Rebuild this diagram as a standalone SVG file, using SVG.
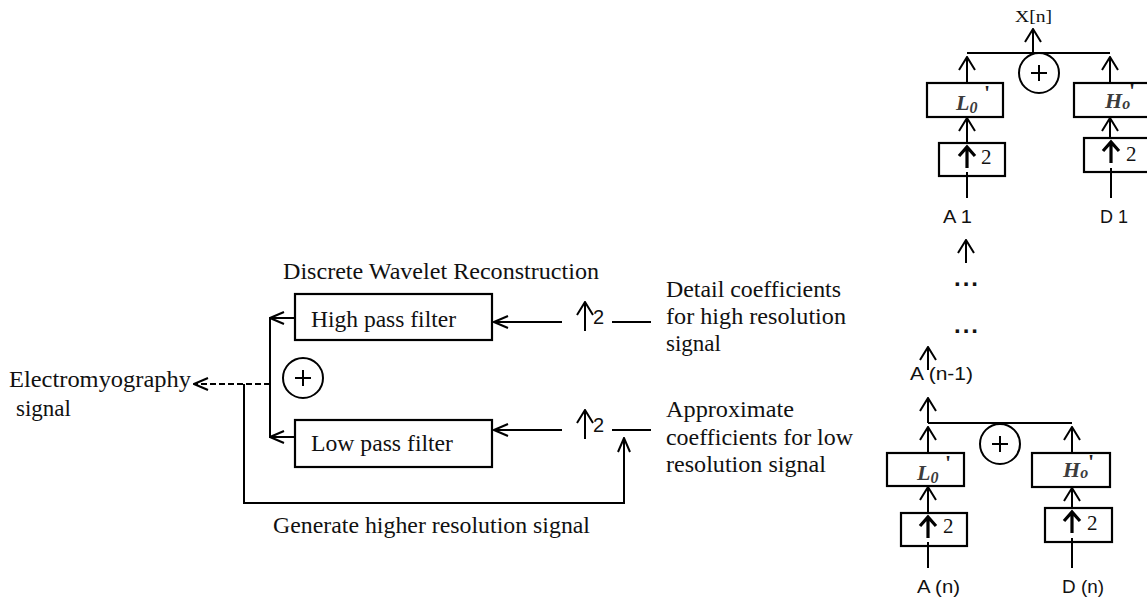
<svg xmlns="http://www.w3.org/2000/svg" width="1147" height="600" viewBox="0 0 1147 600">
<defs>
<style>
.ln{fill:none;stroke:#000;stroke-width:2}
.bx{fill:#fff;stroke:#000;stroke-width:2.2}
.ser{font-family:"Liberation Serif","Times New Roman",serif;fill:#111}
.big{font-size:23px}
.sans{font-family:"Liberation Sans",Arial,sans-serif;fill:#111}
.math{font-family:"Liberation Serif","Times New Roman",serif;font-style:italic;font-weight:bold;fill:#3c3c3c}
.pr{font-family:"Liberation Serif","Times New Roman",serif;font-weight:bold;fill:#222;font-size:22px}
.bold{fill:none;stroke:#000;stroke-width:3.2}
</style>
<marker id="ah" viewBox="0 0 16 14" refX="15" refY="7" markerWidth="16" markerHeight="14" markerUnits="userSpaceOnUse" orient="auto">
<path d="M1,1 L15,7 L1,13" fill="none" stroke="#000" stroke-width="2"/>
</marker>
<marker id="ah2" viewBox="0 0 15 18" refX="14" refY="9" markerWidth="15" markerHeight="18" markerUnits="userSpaceOnUse" orient="auto">
<path d="M1,1 L14,9 L1,17" fill="none" stroke="#000" stroke-width="2"/>
</marker>
</defs>
<rect width="1147" height="600" fill="#fff"/>

<text class="ser" x="283" y="279" font-size="24" fill="#222" textLength="316" lengthAdjust="spacingAndGlyphs">Discrete Wavelet Reconstruction</text>

<g id="high-pass-filter">
<rect class="bx" x="295" y="294" width="197" height="46"/>
<text class="ser big" x="311" y="327" textLength="145" lengthAdjust="spacingAndGlyphs">High pass filter</text>
</g>
<g id="low-pass-filter">
<rect class="bx" x="295" y="420" width="197" height="47"/>
<text class="ser big" x="311" y="451" textLength="142" lengthAdjust="spacingAndGlyphs">Low pass filter</text>
</g>
<g id="sum-left">
<circle class="ln" cx="303" cy="378" r="20"/>
<path class="ln" d="M295,378 H311 M303,370 V386"/>
</g>
<g id="emg-output">
<text class="ser big" x="9" y="387" textLength="182" lengthAdjust="spacingAndGlyphs">Electromyography</text>
<text class="ser big" x="16" y="416">signal</text>
</g>
<g id="upsample-high">
<text class="sans" x="593" y="324" font-size="20">2</text>
</g>
<g id="upsample-low">
<text class="sans" x="593" y="432" font-size="20">2</text>
</g>
<g id="detail-coeffs">
<text class="ser big" x="666" y="297" textLength="175" lengthAdjust="spacingAndGlyphs">Detail coefficients</text>
<text class="ser big" x="666" y="324" textLength="180" lengthAdjust="spacingAndGlyphs">for high resolution</text>
<text class="ser big" x="666" y="351">signal</text>
</g>
<g id="approx-coeffs">
<text class="ser big" x="666" y="417" textLength="128" lengthAdjust="spacingAndGlyphs">Approximate</text>
<text class="ser big" x="666" y="445" textLength="187" lengthAdjust="spacingAndGlyphs">coefficients for low</text>
<text class="ser big" x="666" y="472" textLength="160" lengthAdjust="spacingAndGlyphs">resolution signal</text>
</g>
<g id="feedback-label">
<text class="ser big" x="273" y="533" textLength="317" lengthAdjust="spacingAndGlyphs">Generate higher resolution signal</text>
</g>

<g id="xn">
<text class="ser" x="1015" y="22" font-size="16" textLength="37" lengthAdjust="spacingAndGlyphs">X[n]</text>
</g>
<g id="sum-top">
<circle class="ln" cx="1039" cy="73" r="20"/>
<path class="ln" d="M1031,73 H1047 M1039,65 V81"/>
</g>
<g id="L0-top">
<rect class="bx" x="927" y="83" width="76" height="34"/>
<text class="math" x="956" y="110" font-size="22">L<tspan font-size="16" dy="3">0</tspan></text>
<text class="pr" x="984" y="100">'</text>
</g>
<g id="H0-top">
<rect class="bx" x="1074" y="83" width="90" height="34"/>
<text class="math" x="1105" y="108" font-size="22">H<tspan font-size="16" dy="1">o</tspan></text>
<text class="pr" x="1129" y="98">'</text>
</g>
<g id="up2-L-top">
<rect class="bx" x="939" y="143" width="66" height="33"/>
<path class="bold" d="M967,147 V168 M959,156 L967,147 L975,156"/>
<text class="ser" x="981" y="164" font-size="21">2</text>
</g>
<g id="up2-H-top">
<rect class="bx" x="1084" y="138" width="80" height="34"/>
<path class="bold" d="M1111,142 V163 M1103,151 L1111,142 L1119,151"/>
<text class="ser" x="1126" y="161" font-size="21">2</text>
</g>
<g id="A1"><text class="sans" x="943" y="223" font-size="19" textLength="29" lengthAdjust="spacingAndGlyphs">A 1</text></g>
<g id="D1"><text class="sans" x="1100" y="223" font-size="19" textLength="28" lengthAdjust="spacingAndGlyphs">D 1</text></g>
<g id="dots">
<text class="sans" x="954" y="286" font-size="24" font-weight="bold" textLength="24" lengthAdjust="spacing">...</text>
<text class="sans" x="954" y="333" font-size="24" font-weight="bold" textLength="24" lengthAdjust="spacing">...</text>
</g>
<g id="An-1"><text class="sans" x="910" y="380" font-size="19" textLength="63" lengthAdjust="spacingAndGlyphs">A (n-1)</text></g>
<g id="sum-bottom">
<circle class="ln" cx="1000" cy="444" r="20"/>
<path class="ln" d="M992,444 H1008 M1000,436 V452"/>
</g>
<g id="L0-bottom">
<rect class="bx" x="887" y="453" width="77" height="33"/>
<text class="math" x="917" y="480" font-size="22">L<tspan font-size="16" dy="3">0</tspan></text>
<text class="pr" x="945" y="470">'</text>
</g>
<g id="H0-bottom">
<rect class="bx" x="1032" y="453" width="78" height="34"/>
<text class="math" x="1063" y="477" font-size="22">H<tspan font-size="16" dy="1">o</tspan></text>
<text class="pr" x="1088" y="469">'</text>
</g>
<g id="up2-L-bottom">
<rect class="bx" x="901" y="513" width="66" height="33"/>
<path class="bold" d="M928,517 V538 M920,526 L928,517 L936,526"/>
<text class="ser" x="943" y="533" font-size="21">2</text>
</g>
<g id="up2-H-bottom">
<rect class="bx" x="1045" y="508" width="67" height="34"/>
<path class="bold" d="M1072,512 V533 M1064,521 L1072,512 L1080,521"/>
<text class="ser" x="1087" y="530" font-size="21">2</text>
</g>
<g id="An"><text class="sans" x="917" y="593" font-size="19" textLength="43" lengthAdjust="spacingAndGlyphs">A (n)</text></g>
<g id="Dn"><text class="sans" x="1062" y="593" font-size="19" textLength="42" lengthAdjust="spacingAndGlyphs">D (n)</text></g>

<g id="connectors">
<line class="ln" x1="295" y1="318" x2="270" y2="318" marker-end="url(#ah)"/>
<line class="ln" x1="295" y1="437" x2="270" y2="437" marker-end="url(#ah)"/>
<line class="ln" x1="270" y1="317" x2="270" y2="438"/>
<line class="ln" x1="270" y1="384" x2="194" y2="384" stroke-dasharray="6,3" marker-end="url(#ah)"/>
<path class="ln" d="M244,384 V503 H624 V438" marker-end="url(#ah)"/>
<line class="ln" x1="562" y1="322" x2="494" y2="322" marker-end="url(#ah)"/>
<line class="ln" x1="562" y1="430" x2="494" y2="430" marker-end="url(#ah)"/>
<line class="ln" x1="585" y1="331" x2="585" y2="302" marker-end="url(#ah2)"/>
<line class="ln" x1="585" y1="439" x2="585" y2="410" marker-end="url(#ah2)"/>
<line class="ln" x1="612" y1="322" x2="651" y2="322"/>
<line class="ln" x1="612" y1="430" x2="651" y2="430"/>
<line class="ln" x1="1033" y1="53" x2="1033" y2="29" marker-end="url(#ah2)"/>
<line class="ln" x1="967" y1="53" x2="1110" y2="53"/>
<line class="ln" x1="967" y1="83" x2="967" y2="57" marker-end="url(#ah2)"/>
<line class="ln" x1="1110" y1="83" x2="1110" y2="57" marker-end="url(#ah2)"/>
<line class="ln" x1="967" y1="143" x2="967" y2="118" marker-end="url(#ah2)"/>
<line class="ln" x1="1110" y1="138" x2="1110" y2="118" marker-end="url(#ah2)"/>
<line class="ln" x1="967" y1="172" x2="967" y2="198"/>
<line class="ln" x1="1111" y1="168" x2="1111" y2="198"/>
<line class="ln" x1="966" y1="263" x2="966" y2="240" marker-end="url(#ah2)"/>
<line class="ln" x1="928" y1="370" x2="928" y2="347" marker-end="url(#ah2)"/>
<line class="ln" x1="928" y1="423" x2="928" y2="398" marker-end="url(#ah2)"/>
<line class="ln" x1="928" y1="423" x2="1072" y2="423"/>
<line class="ln" x1="928" y1="453" x2="928" y2="427" marker-end="url(#ah2)"/>
<line class="ln" x1="1072" y1="453" x2="1072" y2="427" marker-end="url(#ah2)"/>
<line class="ln" x1="928" y1="513" x2="928" y2="487" marker-end="url(#ah2)"/>
<line class="ln" x1="1072" y1="508" x2="1072" y2="488" marker-end="url(#ah2)"/>
<line class="ln" x1="928" y1="542" x2="928" y2="568"/>
<line class="ln" x1="1072" y1="538" x2="1072" y2="568"/>
</g>
</svg>
